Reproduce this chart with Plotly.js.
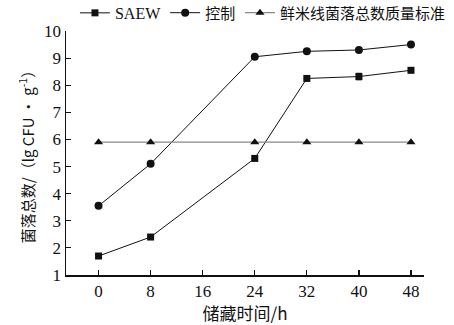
<!DOCTYPE html>
<html><head><meta charset="utf-8">
<script src="https://cdn.plot.ly/plotly-3.0.1.min.js"></script>
<style>body{margin:0;background:#fff}#c{width:454px;height:325px}</style>
</head><body><div id="c"></div>
<script>
const hours = [0, 8, 24, 32, 40, 48];
const saew = [1.7, 2.4, 5.3, 8.25, 8.32, 8.55];
const saewErr = [0, 0, 0, 0, 0.12, 0];
const control = [3.55, 5.1, 9.05, 9.25, 9.3, 9.5];
const standard = [5.9, 5.9, 5.9, 5.9, 5.9, 5.9];
const names = ['SAEW', '控制', '鲜米线菌落总数质量标准'];
const xTicks = [0, 8, 16, 24, 32, 40, 48];
const yTicks = [1, 2, 3, 4, 5, 6, 7, 8, 9, 10];

const serif = 'Liberation Serif, Noto Sans CJK SC, serif';
const cjk = 'Noto Sans CJK SC, sans-serif';
const traces = [
  {x: hours, y: saew, name: names[0], mode: 'lines+markers', legend: 'legend',
   line: {color: '#111', width: 1}, marker: {symbol: 'square', size: 7, color: '#111'},
   error_y: {type: 'data', array: saewErr, visible: true, color: '#111', thickness: 1, width: 3}},
  {x: hours, y: control, name: names[1], mode: 'lines+markers', legend: 'legend2',
   line: {color: '#111', width: 1}, marker: {symbol: 'circle', size: 8, color: '#111'}},
  {x: hours, y: standard, name: names[2], mode: 'lines+markers', legend: 'legend3',
   line: {color: '#888', width: 1.2}, marker: {symbol: 'triangle-up', size: 8, color: '#111'}}
];
function leg(x, fam, size) {
  return {orientation: 'h', x: x, y: 1.074, xanchor: 'left', yanchor: 'middle', borderwidth: 0,
          font: {size: size, family: fam, color: '#111'}, itemwidth: 30, bgcolor: 'rgba(0,0,0,0)'};
}
const layout = {
  width: 454, height: 325,
  margin: {l: 66, r: 30, t: 31, b: 50, autoexpand: false},
  paper_bgcolor: '#fff', plot_bgcolor: '#fff',
  font: {family: serif, color: '#111', size: 17},
  showlegend: true,
  legend: leg(0.025, serif, 16),
  legend2: leg(0.277, cjk, 15),
  legend3: leg(0.486, cjk, 15),
  xaxis: {range: [-5, 50], tickvals: xTicks, ticktext: xTicks.map(String),
          ticks: 'inside', ticklen: 5, tickwidth: 1.2, tickcolor: '#111',
          showline: true, linecolor: '#111', linewidth: 1.5, showgrid: false, zeroline: false,
          title: {text: '储藏时间/h', font: {size: 17, family: cjk, color: '#111'}, standoff: 10},
          tickfont: {size: 17, family: serif, color: '#111'}},
  yaxis: {range: [1, 10], tickvals: yTicks,
          ticks: 'inside', ticklen: 5, tickwidth: 1.2, tickcolor: '#111',
          showline: true, linecolor: '#111', linewidth: 1.5, showgrid: false, zeroline: false,
          title: {text: '菌落总数/（lg CFU · g<sup>-1</sup>）', font: {size: 15, family: cjk, color: '#111'}, standoff: 6},
          tickfont: {size: 17, family: serif, color: '#111'}}
};
Plotly.newPlot('c', traces, layout, {displayModeBar: false, staticPlot: true});
</script></body></html>
